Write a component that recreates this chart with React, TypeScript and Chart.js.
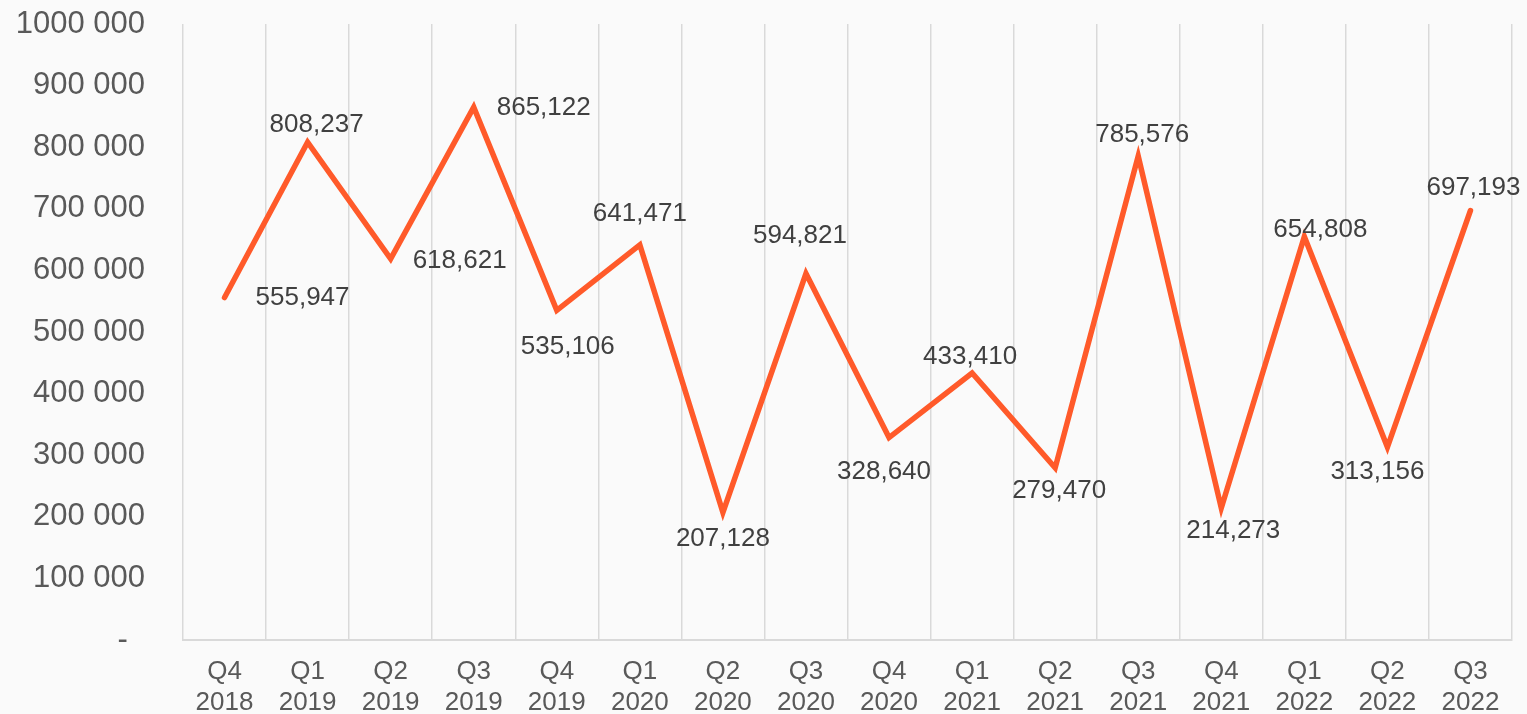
import React, { useEffect, useRef } from "react";
import { Chart, registerables } from "chart.js";

Chart.register(...registerables);

const quarters = ["Q4", "Q1", "Q2", "Q3", "Q4", "Q1", "Q2", "Q3", "Q4", "Q1", "Q2", "Q3", "Q4", "Q1", "Q2", "Q3"];
const years = ["2018", "2019", "2019", "2019", "2019", "2020", "2020", "2020", "2020", "2021", "2021", "2021", "2021", "2022", "2022", "2022"];
const values = [555947, 808237, 618621, 865122, 535106, 641471, 207128, 594821, 328640, 433410, 279470, 785576, 214273, 654808, 313156, 697193];
const yTicks = [0, 100000, 200000, 300000, 400000, 500000, 600000, 700000, 800000, 900000, 1000000];

// label placement relative to each point (styling)
const labelOffsets: [number, number][] = [
  [78, 0], [9, -17], [69, 2], [70, 1], [11, 36], [0, -31], [0, 26], [-6, -38],
  [-5, 34], [-2, -16], [4, 23], [4, -21], [12, 23], [16, -7], [-10, 25], [3, -23],
];

const FONT = '"Liberation Sans", Arial, sans-serif';

const fmtLabel = (v: number) => v.toLocaleString("en-US");
const fmtTick = (v: number) => {
  if (v === 0) return "-  ";
  const th = Math.floor(v / 1000);
  return th + " 000";
};

const labelPlugin = {
  id: "pointLabels",
  afterDatasetsDraw(chart: any) {
    const ctx = chart.ctx;
    const meta = chart.getDatasetMeta(0);
    ctx.save();
    ctx.font = `26px ${FONT}`;
    ctx.fillStyle = "#404040";
    ctx.textAlign = "center";
    ctx.textBaseline = "middle";
    meta.data.forEach((pt: any, i: number) => {
      const [dx, dy] = labelOffsets[i];
      ctx.fillText(fmtLabel(values[i]), pt.x + dx, pt.y + dy);
    });
    ctx.restore();
  },
};

export default function App() {
  const ref = useRef<HTMLCanvasElement | null>(null);
  useEffect(() => {
    if (!ref.current) return;
    const chart = new Chart(ref.current, {
      type: "line",
      data: {
        labels: quarters.map((q, i) => [q, years[i]]),
        datasets: [
          {
            data: values,
            borderColor: "#FF5A2A",
            borderWidth: 5.5,
            pointRadius: 0,
            borderCapStyle: "round",
            tension: 0,
          },
        ],
      },
      options: {
        animation: false,
        responsive: false,
        maintainAspectRatio: false,
        layout: { padding: { top: 24, right: 15, left: 0, bottom: 0 } },
        plugins: { legend: { display: false }, tooltip: { enabled: false } },
        scales: {
          x: {
            offset: true,
            grid: { offset: true, color: "#d9d9d9", lineWidth: 1.5, drawTicks: false },
            border: { color: "#d9d9d9", width: 2 },
            ticks: { color: "#595959", font: { family: FONT, size: 26, lineHeight: 1.19 }, padding: 16, maxRotation: 0, autoSkip: false },
            afterFit: (s: any) => { s.height = 74; s.paddingLeft = 0; s.paddingRight = 0; },
          },
          y: {
            min: 0,
            max: 1000000,
            afterBuildTicks: (s: any) => { s.ticks = yTicks.map((v) => ({ value: v })); },
            grid: { display: false, drawTicks: false },
            border: { display: false },
            ticks: { color: "#595959", font: { family: FONT, size: 31 }, padding: 38, callback: (v: any) => fmtTick(Number(v)) },
            afterFit: (s: any) => { s.width = 183; s.paddingTop = 0; s.paddingBottom = 0; },
          },
        },
      },
      plugins: [labelPlugin],
    });
    return () => chart.destroy();
  }, []);
  return (
    <div style={{ position: "absolute", left: 0, top: 0, width: 1527, height: 714, background: "#fafafa" }}>
      <canvas ref={ref} width={1527} height={714} style={{ display: "block" }} />
    </div>
  );
}
